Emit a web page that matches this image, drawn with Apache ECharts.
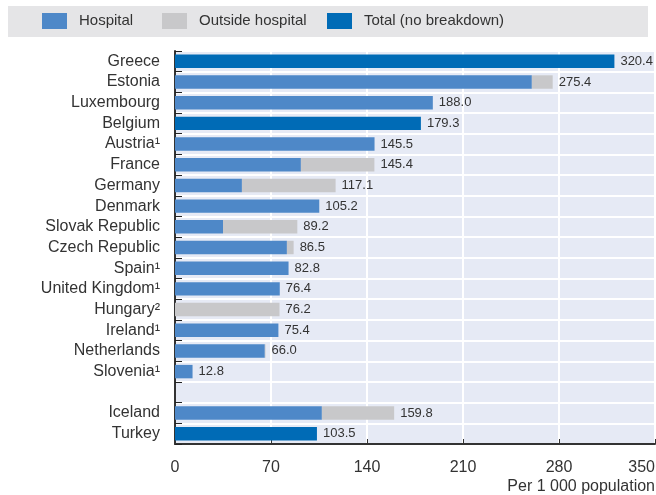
<!DOCTYPE html>
<html>
<head>
<meta charset="utf-8">
<script src="https://cdn.jsdelivr.net/npm/echarts@6/dist/echarts.min.js"></script>
<style>
  html, body { margin: 0; padding: 0; background: #fff; }
  #chart { width: 656px; height: 495px; }
</style>
</head>
<body>
<div id="chart"></div>
<script>
// Countries, top to bottom; the empty entry leaves a blank row before the non-EU group
const countries = ['Greece', 'Estonia', 'Luxembourg', 'Belgium', 'Austria¹', 'France', 'Germany',
  'Denmark', 'Slovak Republic', 'Czech Republic', 'Spain¹', 'United Kingdom¹', 'Hungary²',
  'Ireland¹', 'Netherlands', 'Slovenia¹', '', 'Iceland', 'Turkey'];

// Per 1 000 population
const hospital = [0, 260.2, 188.0, 0, 145.5, 91.8, 48.8, 105.2, 35.0, 81.6, 82.8, 76.4, 0,
  75.4, 65.5, 12.8, '-', 107.1, 0];
const outsideHospital = [0, 15.2, 0, 0, 0, 53.6, 68.3, 0, 54.2, 4.9, 0, 0, 76.2,
  0, 0.5, 0, '-', 52.7, 0];
const totalNoBreakdown = [320.4, 0, 0, 179.3, 0, 0, 0, 0, 0, 0, 0, 0, 0,
  0, 0, 0, '-', 0, 103.5];

const seriesNames = ['Hospital', 'Outside hospital', 'Total (no breakdown)'];
const xTicks = [0, 70, 140, 210, 280, 350];

const FONT = '"Liberation Sans", Arial, sans-serif';
const TEXT = '#333333';

function num(v) { return typeof v === 'number' ? v : 0; }
const labelCarrier = countries.map((c, i) => (hospital[i] === '-' ? '-' : 0));

// one legend block per entry so each swatch sits at its own x position
const legendX = [42, 162, 327];
const legends = seriesNames.map((name, k) => ({
  left: legendX[k], top: 13, padding: 0,
  itemWidth: 25, itemHeight: 16, icon: 'rect',
  data: [name],
  textStyle: { fontFamily: FONT, fontSize: 15, color: TEXT, padding: [0, 0, 0, 7] }
}));

const chart = echarts.init(document.getElementById('chart'), null, { renderer: 'canvas' });

chart.setOption({
  animation: false,
  textStyle: { fontFamily: FONT, color: TEXT },
  graphic: [{
    type: 'rect', left: 8, top: 6, z: -1,
    shape: { width: 640, height: 31 },
    style: { fill: '#E5E5E7' }
  }],
  legend: legends,
  grid: {
    left: 175, right: 1, top: 51, bottom: 51,
    outerBoundsMode: 'none', containLabel: false,
    show: true, backgroundColor: '#E6EAF5', borderColor: '#333', borderWidth: 1
  },
  xAxis: {
    type: 'value', min: 0, max: 350, interval: 70,
    axisLine: { show: true, lineStyle: { color: '#333', width: 2 } },
    axisTick: { show: true, inside: true, length: 5, lineStyle: { color: '#333' } },
    splitLine: { show: true, lineStyle: { color: '#fff', width: 2 } },
    axisLabel: {
      fontFamily: FONT, fontSize: 16, color: TEXT, margin: 16,
      alignMaxLabel: 'right',
      formatter: v => (xTicks.includes(v) ? String(v) : '')
    },
    name: 'Per 1 000 population',
    nameLocation: 'end',
    nameGap: 0,
    nameTextStyle: {
      fontFamily: FONT, fontSize: 16, color: TEXT,
      align: 'right', verticalAlign: 'top', padding: [35, 0, 0, 0]
    }
  },
  yAxis: {
    type: 'category', data: countries, inverse: true,
    axisLine: { show: true, lineStyle: { color: '#333', width: 2 } },
    axisTick: { show: true, inside: true, length: 7, lineStyle: { color: '#222' } },
    splitLine: { show: true, lineStyle: { color: '#fff', width: 2 } },
    axisLabel: { fontFamily: FONT, fontSize: 16, color: TEXT, margin: 15, interval: 0 }
  },
  series: [
    {
      name: seriesNames[0], type: 'bar', stack: 'all', data: hospital,
      barWidth: '65%', itemStyle: { color: '#4E88C8' }
    },
    {
      name: seriesNames[1], type: 'bar', stack: 'all', data: outsideHospital,
      itemStyle: { color: '#C8C8CA' }
    },
    {
      name: seriesNames[2], type: 'bar', stack: 'all', data: totalNoBreakdown,
      itemStyle: { color: '#006BB6' }
    },
    {
      // zero-length segment at the end of each stack that carries the total label
      name: 'labels', type: 'bar', stack: 'all', data: labelCarrier,
      itemStyle: { color: 'transparent' },
      label: {
        show: true, position: 'right', distance: 6,
        fontFamily: FONT, fontSize: 13, color: TEXT,
        formatter: p => {
          const i = p.dataIndex;
          return (num(hospital[i]) + num(outsideHospital[i]) + num(totalNoBreakdown[i])).toFixed(1);
        }
      }
    }
  ]
});
</script>
</body>
</html>
